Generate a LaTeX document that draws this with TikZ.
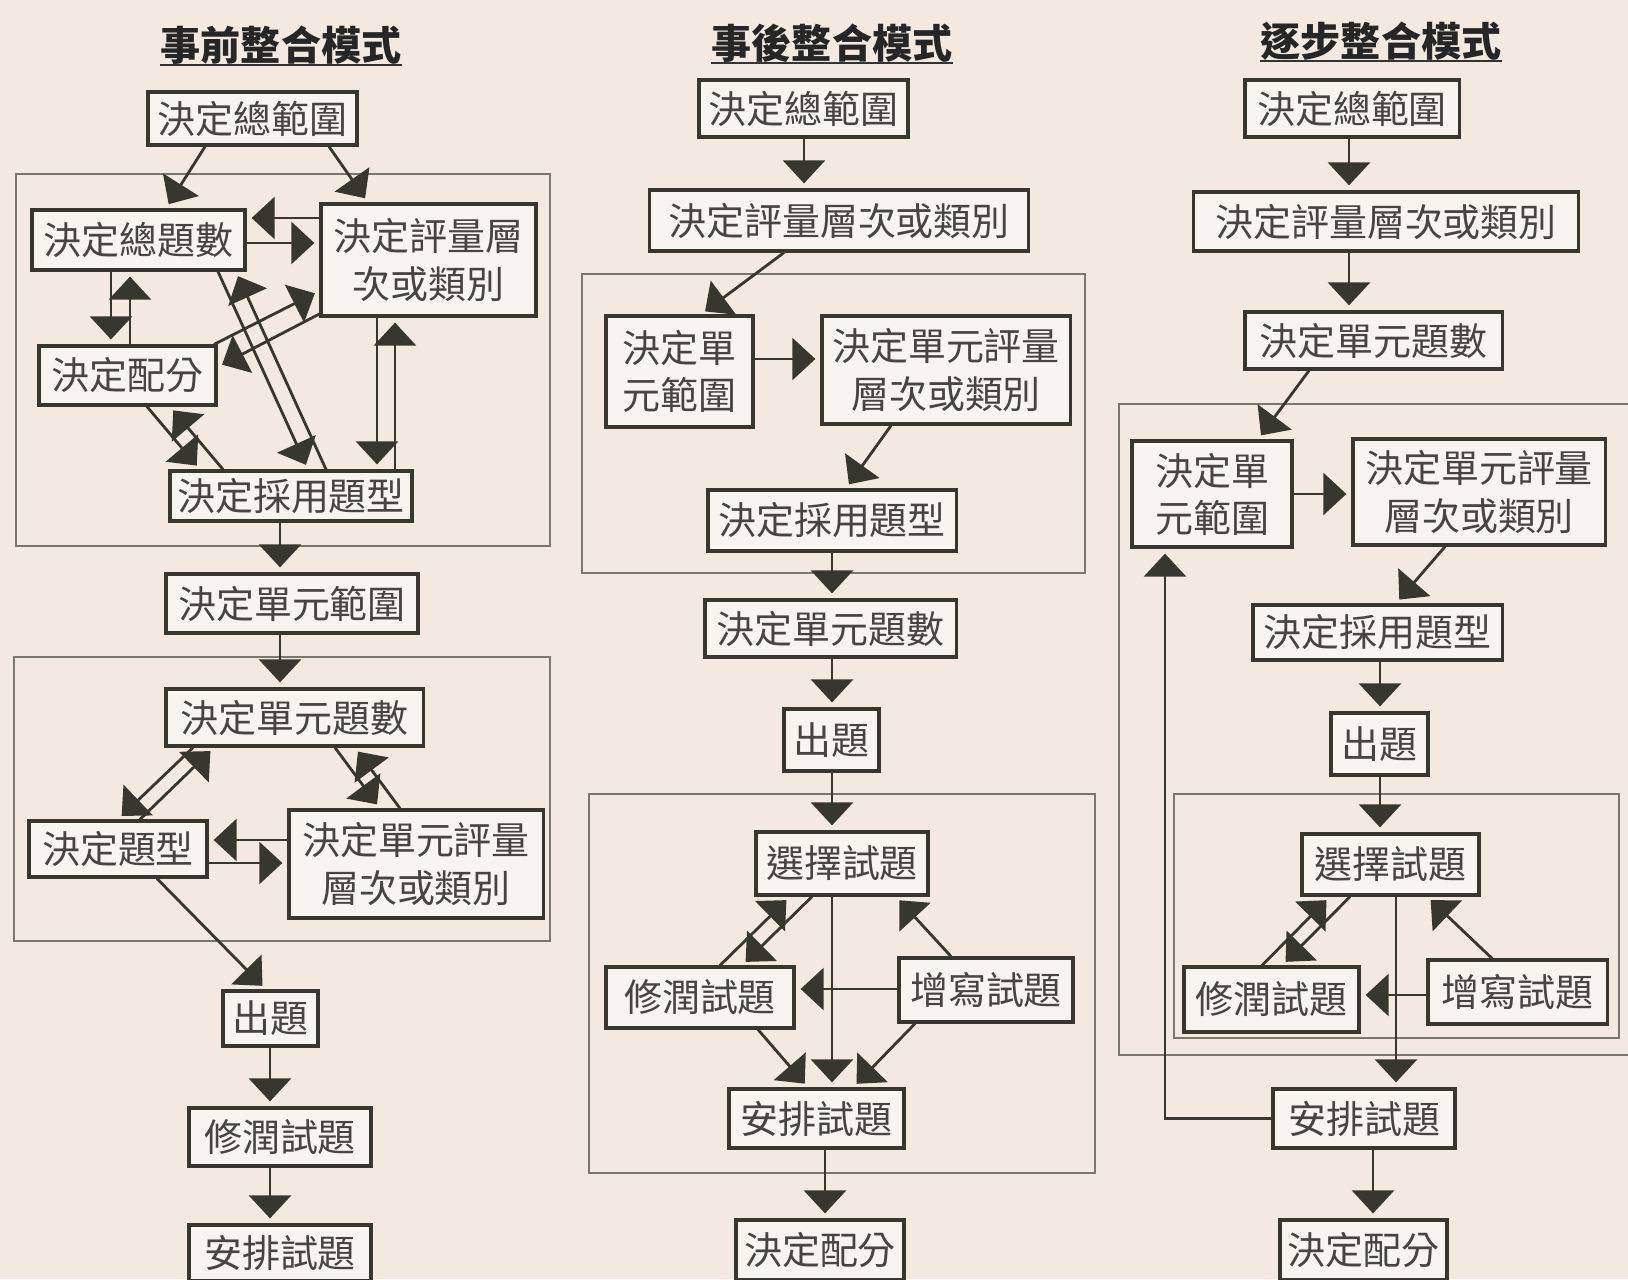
\documentclass[tikz,border=0pt]{standalone}
\usepackage{fontspec}
\newfontfamily\cjk{Noto Sans CJK TC}
\usetikzlibrary{arrows.meta,calc}
\definecolor{bg}{HTML}{F2E9E1}
\definecolor{ink}{HTML}{38372F}
\definecolor{txt}{HTML}{46453F}
\definecolor{grp}{HTML}{7A776F}
\definecolor{boxfill}{HTML}{F8F4EF}
\begin{document}
\begin{tikzpicture}[x=0.01cm,y=-0.01cm,
  box/.style={draw=ink, line width=0.9pt, fill=boxfill, inner sep=0pt, text=txt,
    font=\cjk\fontsize{10.8pt}{13.4pt}\selectfont, align=center},
  grpbox/.style={draw=grp, line width=0.45pt},
  conn/.style={draw=ink, line width=0.8pt, -{Triangle[length=0.23cm,width=0.42cm]}, shorten >=0.05cm},
  ttl/.style={font=\cjk\bfseries\fontsize{11.4pt}{13pt}\selectfont, text=black!85, inner sep=0pt},
]
\useasboundingbox (0,0) rectangle (1628,1279);
\clip (0,0) rectangle (1628,1279);
\fill[bg] (0,0) rectangle (1628,1279);

% group boxes
\draw[grpbox] (16,174) rectangle (550,546);
\draw[grpbox] (14,657) rectangle (550,941);
\draw[grpbox] (582,274) rectangle (1085,573);
\draw[grpbox] (589,794) rectangle (1095,1173);
\draw[grpbox] (1119,404) rectangle (1660,1055);
\draw[grpbox] (1174,794) rectangle (1619,1038);

% titles
\node[ttl] (T1) at (281,45) {事前整合模式};
\node[ttl] (T2) at (832,43) {事後整合模式};
\node[ttl] (T3) at (1381,41) {逐步整合模式};
\foreach \t in {T1,T2,T3}{\draw[line width=0.6pt, black!80] (\t.south west) -- (\t.south east);}

% left column
\node[box, minimum width=2.09cm, minimum height=0.53cm] (L0) at (252.5,118.5) {決定總範圍};
\node[box, minimum width=2.13cm, minimum height=0.60cm] (L1) at (138.5,240) {決定總題數};
\node[box, minimum width=2.15cm, minimum height=1.12cm] (L2) at (428.5,260) {決定評量層\\次或類別};
\node[box, minimum width=1.77cm, minimum height=0.59cm] (L3) at (127.5,375.5) {決定配分};
\node[box, minimum width=2.42cm, minimum height=0.50cm] (L4) at (291,496) {決定採用題型};
\node[box, minimum width=2.52cm, minimum height=0.59cm] (L5) at (292,603.5) {決定單元範圍};
\node[box, minimum width=2.57cm, minimum height=0.57cm] (L6) at (294.5,717.5) {決定單元題數};
\node[box, minimum width=1.78cm, minimum height=0.56cm] (L7) at (118,849) {決定題型};
\node[box, minimum width=2.54cm, minimum height=1.08cm] (L8) at (416,864) {決定單元評量\\層次或類別};
\node[box, minimum width=0.95cm, minimum height=0.55cm] (L9) at (270.5,1018.5) {出題};
\node[box, minimum width=1.82cm, minimum height=0.58cm] (L10) at (280,1137) {修潤試題};
\node[box, minimum width=1.82cm, minimum height=0.56cm] (L11) at (280,1253) {安排試題};

% middle column
\node[box, minimum width=2.09cm, minimum height=0.57cm] (M0) at (803.5,108.5) {決定總範圍};
\node[box, minimum width=3.78cm, minimum height=0.61cm] (M1) at (839,220.5) {決定評量層次或類別};
\node[box, minimum width=1.47cm, minimum height=1.11cm] (M2) at (679.5,371.5) {決定單\\元範圍};
\node[box, minimum width=2.48cm, minimum height=1.08cm] (M3) at (946,370) {決定單元評量\\層次或類別};
\node[box, minimum width=2.48cm, minimum height=0.61cm] (M4) at (832,520.5) {決定採用題型};
\node[box, minimum width=2.51cm, minimum height=0.57cm] (M5) at (830.5,628.5) {決定單元題數};
\node[box, minimum width=0.95cm, minimum height=0.62cm] (M6) at (831.5,740) {出題};
\node[box, minimum width=1.72cm, minimum height=0.63cm] (M7) at (842,863.5) {選擇試題};
\node[box, minimum width=1.88cm, minimum height=0.61cm] (M8) at (700,997.5) {修潤試題};
\node[box, minimum width=1.74cm, minimum height=0.64cm] (M9) at (986,990) {增寫試題};
\node[box, minimum width=1.75cm, minimum height=0.59cm] (M10) at (816.5,1118.5) {安排試題};
\node[box, minimum width=1.68cm, minimum height=0.60cm] (M11) at (820,1250) {決定配分};

% right column
\node[box, minimum width=2.14cm, minimum height=0.57cm] (R0) at (1352,108.5) {決定總範圍};
\node[box, minimum width=3.84cm, minimum height=0.59cm] (R1) at (1386,221.5) {決定評量層次或類別};
\node[box, minimum width=2.57cm, minimum height=0.57cm] (R2) at (1373.5,340.5) {決定單元題數};
\node[box, minimum width=1.60cm, minimum height=1.06cm] (R3) at (1212,494) {決定單\\元範圍};
\node[box, minimum width=2.52cm, minimum height=1.06cm] (R4) at (1479,492) {決定單元評量\\層次或類別};
\node[box, minimum width=2.49cm, minimum height=0.55cm] (R5) at (1377.5,632.5) {決定採用題型};
\node[box, minimum width=0.97cm, minimum height=0.62cm] (R6) at (1379.5,744) {出題};
\node[box, minimum width=1.77cm, minimum height=0.61cm] (R7) at (1390.5,864.5) {選擇試題};
\node[box, minimum width=1.75cm, minimum height=0.65cm] (R8) at (1271.5,999.5) {修潤試題};
\node[box, minimum width=1.79cm, minimum height=0.64cm] (R9) at (1517.5,992) {增寫試題};
\node[box, minimum width=1.82cm, minimum height=0.59cm] (R10) at (1364,1118.5) {安排試題};
\node[box, minimum width=1.67cm, minimum height=0.60cm] (R11) at (1363.5,1250) {決定配分};

% left connectors
\draw[conn] (L0.south -| 205,0) -- (L1.north -| 166,0);
\draw[conn] (L0.south -| 329,0) -- (L2.north -| 368,0);
\draw[conn] (L2.west |- 0,218) -- (L1.east |- 0,218);
\draw[conn] (L1.east |- 0,243) -- (L2.west |- 0,243);
\draw[conn] (L1.south -| 111,0) -- (L3.north -| 111,0);
\draw[conn] (L3.north -| 130,0) -- (L1.south -| 130,0);
\draw[conn] (L3.north -| 214,0) -- (L2.west |- 0,291);
\draw[conn] (L2.west |- 0,314) -- (L3.east |- 0,367);
\draw[conn] (L1.south -| 218,0) -- (L4.north -| 308,0);
\draw[conn] (L4.north -| 326,0) -- (L1.south -| 236,0);
\draw[conn] (L3.south -| 147,0) -- (L4.north -| 200,0);
\draw[conn] (L4.north -| 223,0) -- (L3.south -| 170,0);
\draw[conn] (L2.south -| 377,0) -- (L4.north -| 377,0);
\draw[conn] (L4.north -| 395,0) -- (L2.south -| 395,0);
\draw[conn] (L4.south -| 280,0) -- (L5.north -| 280,0);
\draw[conn] (L5.south -| 280,0) -- (L6.north -| 280,0);
\draw[conn] (L7.north -| 140,0) -- (L6.south -| 214,0);
\draw[conn] (L6.south -| 193,0) -- (L7.north -| 118,0);
\draw[conn] (L6.south -| 335,0) -- (L8.north -| 380,0);
\draw[conn] (L8.north -| 400,0) -- (L6.south -| 355,0);
\draw[conn] (L8.west |- 0,840) -- (L7.east |- 0,840);
\draw[conn] (L7.east |- 0,863) -- (L8.west |- 0,863);
\draw[conn] (L7.south -| 157,0) -- (L9.north -| 266,0);
\draw[conn] (L9.south -| 270,0) -- (L10.north -| 270,0);
\draw[conn] (L10.south -| 270,0) -- (L11.north -| 270,0);

% middle connectors
\draw[conn] (M0.south -| 804,0) -- (M1.north -| 804,0);
\draw[conn] (M1.south -| 784,0) -- (M2.north -| 701,0);
\draw[conn] (M2.east |- 0,359) -- (M3.west |- 0,359);
\draw[conn] (M3.south -| 891,0) -- (M4.north -| 846,0);
\draw[conn] (M4.south -| 832,0) -- (M5.north -| 832,0);
\draw[conn] (M5.south -| 832,0) -- (M6.north -| 832,0);
\draw[conn] (M6.south -| 832,0) -- (M7.north -| 832,0);
\draw[conn] (M7.south -| 832,0) -- (M10.north -| 832,0);
\draw[conn] (M9.west |- 0,989) -- (M8.east |- 0,989);
\draw[conn] (M9.north -| 951,0) -- (M7.south -| 896,0);
\draw[conn] (M8.south -| 758,0) -- (M10.north -| 808,0);
\draw[conn] (M9.south -| 915,0) -- (M10.north -| 853,0);
\draw[conn] (M8.north -| 720,0) -- (M7.south -| 790,0);
\draw[conn] (M7.south -| 812,0) -- (M8.north -| 742,0);
\draw[conn] (M10.south -| 825,0) -- (M11.north -| 825,0);

% right connectors
\draw[conn] (R0.south -| 1349,0) -- (R1.north -| 1349,0);
\draw[conn] (R1.south -| 1349,0) -- (R2.north -| 1349,0);
\draw[conn] (R2.south -| 1309,0) -- (R3.north -| 1258,0);
\draw[conn] (R3.east |- 0,494) -- (R4.west |- 0,494);
\draw[conn] (R4.south -| 1445,0) -- (R5.north -| 1396,0);
\draw[conn] (R5.south -| 1380,0) -- (R6.north -| 1380,0);
\draw[conn] (R6.south -| 1380,0) -- (R7.north -| 1380,0);
\draw[conn] (R7.south -| 1396,0) -- (R10.north -| 1396,0);
\draw[conn] (R9.west |- 0,995) -- (R8.east |- 0,995);
\draw[conn] (R9.north -| 1492,0) -- (R7.south -| 1427,0);
\draw[conn] (R8.north -| 1262,0) -- (R7.south -| 1330,0);
\draw[conn] (R7.south -| 1350,0) -- (R8.north -| 1282,0);
\draw[conn] (R10.south -| 1373,0) -- (R11.north -| 1373,0);
\draw[conn] (R10.west) -| (R3.south -| 1165,0);
\end{tikzpicture}
\end{document}
